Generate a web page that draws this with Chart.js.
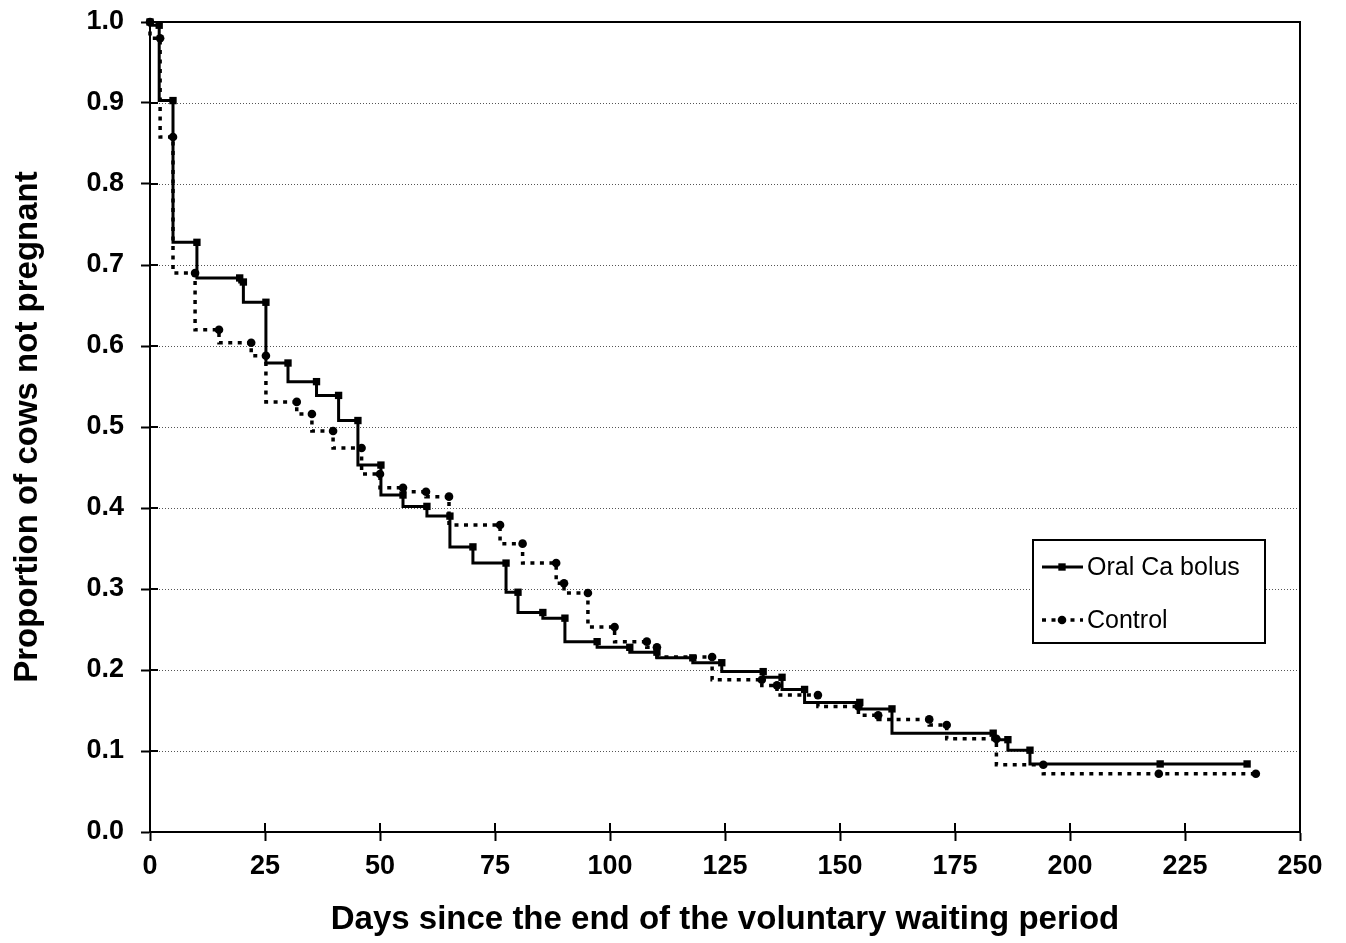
<!DOCTYPE html>
<html><head><meta charset="utf-8">
<script src="https://cdn.jsdelivr.net/npm/chart.js@4/dist/chart.umd.min.js"></script>
<style>html,body{margin:0;padding:0;background:#fff;} #wrap{width:1346px;height:943px;}</style>
</head><body><div id="wrap"><canvas id="c" width="1346" height="943"></canvas></div>
<script>
const oralDays = [0, 2, 5, 10.2, 19.5, 20.3, 25.2, 30, 36.2, 41, 45.2, 50.2, 55, 60.2, 65.2, 70.2, 77.4, 80, 85.4, 90.2, 97.2, 104.3, 110.2, 118, 124.3, 133.3, 137.4, 142.3, 154.3, 161.3, 183.3, 186.5, 191.3, 219.6, 238.5];
const oralProp = [1.0, 0.996, 0.903, 0.728, 0.684, 0.679, 0.654, 0.579, 0.556, 0.539, 0.508, 0.453, 0.416, 0.402, 0.390, 0.352, 0.332, 0.296, 0.271, 0.264, 0.235, 0.228, 0.222, 0.215, 0.209, 0.198, 0.191, 0.176, 0.160, 0.152, 0.122, 0.114, 0.101, 0.084, 0.084];
const ctrlDays = [0, 2.2, 5, 9.8, 15, 22, 25.2, 31.9, 35.2, 39.8, 46, 50, 55, 60, 65, 76.1, 81, 88.3, 90, 95.2, 101, 108, 110.2, 122.2, 133, 136.3, 145.2, 154, 158.3, 169.4, 173.2, 184, 194.2, 219.3, 240.4];
const ctrlProp = [1.0, 0.980, 0.858, 0.690, 0.620, 0.604, 0.588, 0.531, 0.516, 0.495, 0.474, 0.442, 0.425, 0.420, 0.414, 0.379, 0.356, 0.332, 0.307, 0.295, 0.253, 0.235, 0.228, 0.216, 0.188, 0.181, 0.169, 0.155, 0.144, 0.139, 0.132, 0.115, 0.083, 0.072, 0.072];
const seriesNames = ['Oral Ca bolus', 'Control'];
const xTitle = 'Days since the end of the voluntary waiting period';
const yTitle = 'Proportion of cows not pregnant';
const xRange = [0, 250, 25];
const yRange = [0, 1, 0.1];

const FONT = '"Liberation Sans", Arial, Helvetica, sans-serif';
const toXY = (xs, ys) => xs.map((x, i) => ({x, y: ys[i]}));

const framePlugin = {
  id: 'frame',
  beforeDatasetsDraw(chart) {
    const {ctx, chartArea: a, scales: {x, y}} = chart;
    ctx.save();
    ctx.strokeStyle = '#555';
    ctx.lineWidth = 1;
    ctx.setLineDash([1, 2]);
    y.ticks.forEach(t => {
      if (t.value <= 0 || t.value >= 1) return;
      const py = Math.round(y.getPixelForValue(t.value)) + 0.5;
      ctx.beginPath(); ctx.moveTo(a.left, py); ctx.lineTo(a.right, py); ctx.stroke();
    });
    ctx.setLineDash([]);
    ctx.strokeStyle = '#000';
    ctx.lineWidth = 2;
    y.ticks.forEach(t => {
      const py = Math.round(y.getPixelForValue(t.value));
      ctx.beginPath(); ctx.moveTo(a.left, py); ctx.lineTo(a.left + 8, py); ctx.stroke();
    });
    x.ticks.forEach(t => {
      const px = Math.round(x.getPixelForValue(t.value));
      ctx.beginPath(); ctx.moveTo(px, a.bottom); ctx.lineTo(px, a.bottom - 9); ctx.stroke();
    });
    ctx.strokeRect(a.left, a.top, a.right - a.left, a.bottom - a.top);
    ctx.restore();
  },
  afterDraw(chart) {
    const {ctx, chartArea: a} = chart;
    const bx = a.right - 267, by = a.top + 518, bw = 232, bh = 103;
    ctx.save();
    ctx.fillStyle = '#fff';
    ctx.fillRect(bx, by, bw, bh);
    ctx.strokeStyle = '#000';
    ctx.lineWidth = 2;
    ctx.strokeRect(bx, by, bw, bh);
    chart.data.datasets.forEach((ds, i) => {
      const cy = by + 27 + i * 53;
      ctx.strokeStyle = ds.borderColor;
      ctx.lineWidth = ds.borderWidth;
      ctx.setLineDash(ds.borderDash || []);
      ctx.beginPath(); ctx.moveTo(bx + 9, cy); ctx.lineTo(bx + 50, cy); ctx.stroke();
      ctx.setLineDash([]);
      ctx.fillStyle = '#000';
      const mx = bx + 29;
      if (ds.pointStyle === 'rect') {
        const s = ds.pointRadius * Math.SQRT1_2;
        ctx.fillRect(mx - s, cy - s, 2 * s, 2 * s);
      } else {
        ctx.beginPath(); ctx.arc(mx, cy, ds.pointRadius, 0, Math.PI * 2); ctx.fill();
      }
      ctx.font = '25px ' + FONT;
      ctx.textBaseline = 'middle';
      ctx.textAlign = 'left';
      ctx.fillText(ds.label, bx + 54, cy + 1);
    });
    ctx.restore();
  }
};

new Chart(document.getElementById('c'), {
  type: 'line',
  data: {
    datasets: [
      {
        label: seriesNames[0],
        data: toXY(oralDays, oralProp),
        stepped: 'after',
        borderColor: '#000', backgroundColor: '#000',
        borderWidth: 3,
        pointStyle: 'rect', pointRadius: 5.2, pointBorderWidth: 0,
        pointBackgroundColor: '#000',
        fill: false, clip: 8
      },
      {
        label: seriesNames[1],
        data: toXY(ctrlDays, ctrlProp),
        stepped: 'after',
        borderColor: '#000', backgroundColor: '#000',
        borderWidth: 3.5,
        borderDash: [4, 5.5],
        borderCapStyle: 'butt',
        pointStyle: 'circle', pointRadius: 4.3, pointBorderWidth: 0,
        pointBackgroundColor: '#000',
        fill: false, clip: 8
      }
    ]
  },
  options: {
    responsive: false,
    animation: false,
    events: [],
    layout: {padding: {left: 0, right: 46, top: 22, bottom: 0}},
    plugins: {legend: {display: false}, tooltip: {enabled: false}},
    scales: {
      x: {
        type: 'linear',
        min: xRange[0], max: xRange[1],
        afterFit(s) { s.height = 111; s.paddingLeft = 0; s.paddingRight = 0; },
        ticks: {stepSize: xRange[2], color: '#000', padding: 9, font: {family: FONT, size: 27, weight: 'bold'}, maxRotation: 0},
        grid: {drawOnChartArea: false, drawTicks: true, tickLength: 9, tickColor: '#000', tickWidth: 2},
        border: {color: '#000', width: 2},
        title: {display: true, text: xTitle, color: '#000', font: {family: FONT, size: 33, weight: 'bold'}, padding: {top: 0, bottom: 3}}
      },
      y: {
        type: 'linear',
        min: yRange[0], max: yRange[1],
        afterFit(s) { s.width = 150; s.paddingTop = 0; s.paddingBottom = 0; },
        ticks: {stepSize: yRange[2], color: '#000', padding: 17, font: {family: FONT, size: 27, weight: 'bold'}, callback: v => Number(v).toFixed(1)},
        grid: {drawOnChartArea: false, drawTicks: true, tickLength: 9, tickColor: '#000', tickWidth: 2},
        border: {color: '#000', width: 2},
        title: {display: true, text: yTitle, color: '#000', font: {family: FONT, size: 33, weight: 'bold'}, padding: {top: 8, bottom: 0}}
      }
    }
  },
  plugins: [framePlugin]
});
</script>
</body></html>
